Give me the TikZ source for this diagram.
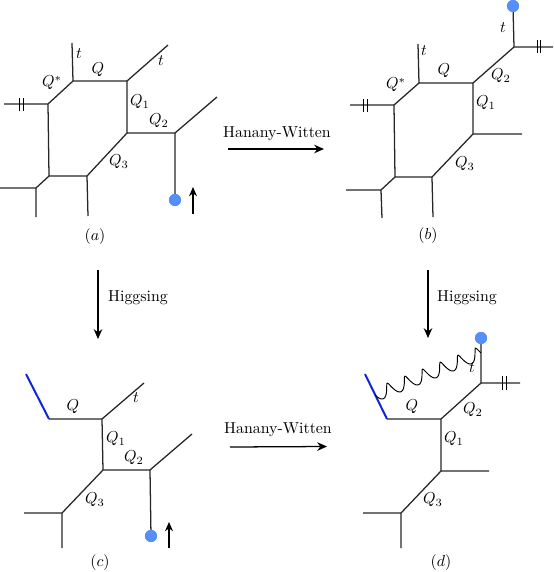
\documentclass[tikz,border=0pt]{standalone}
\usetikzlibrary{arrows.meta}
\definecolor{ballblue}{rgb}{0.34,0.56,0.98}
\definecolor{branecol}{rgb}{0.05,0.15,0.85}
\tikzset{
 x=0.63pt,y=-0.63pt,
 web/.style={line width=0.8pt,black!85},
 tick/.style={line width=0.58pt,black},
 brane/.style={line width=1.25pt,branecol},
 lab/.style={inner sep=0pt},
 ball/.style={circle,inner sep=0pt,minimum size=7.6pt,draw=none,fill=ballblue},
 mv/.style={line width=0.8pt,-{Stealth[length=5.8pt,width=5pt]}},
 big/.style={line width=0.8pt,-{Stealth[length=6.2pt,width=5.4pt]}}
}
\begin{document}
\begin{tikzpicture}
\useasboundingbox (0,0) rectangle (554,572);
% (a)
\coordinate (a1) at (73,81); \coordinate (a1u) at (72,43);
\coordinate (a2) at (127,81); \coordinate (a2u) at (168,45);
\coordinate (a3) at (127,133); \coordinate (a4) at (175,133);
\coordinate (a4u) at (217,97);
\node[ball] (ab) at (175,200) {};
\coordinate (a5) at (48,104); \coordinate (a5l) at (4,104);
\coordinate (a6) at (49,176); \coordinate (a7) at (87,176);
\coordinate (a7d) at (88,216);
\coordinate (a8) at (36,188); \coordinate (a8l) at (0,188); \coordinate (a8d) at (36,217);
\draw[web] (a1u)--(a1)--(a2)--(a2u) (a2)--(a3)--(a4)--(a4u) (a4)--(ab.center);
\draw[web] (a1)--(a5)--(a5l) (a5)--(a6)--(a7)--(a3) (a7)--(a7d) (a6)--(a8)--(a8l) (a8)--(a8d);
\node[ball] at (ab) {};
\draw[tick] (19,98)--(19,111) (23,98)--(23,111);
\coordinate (am1) at (193,214); \coordinate (am2) at (193,187);
\draw[mv] (am1)--(am2);
\node[lab] at (79,54) {$t$};
\node[lab] at (98,70) {$Q$};
\node[lab] at (161,61) {$t$};
\node[lab] at (52,83) {$Q^{*}$};
\node[lab] at (140,102) {$Q_1$};
\node[lab] at (159,121) {$Q_2$};
\node[lab] at (119,162) {$Q_3$};
\node[lab] at (95,237) {$(a)$};
% (b)
\coordinate (b1) at (419,83); \coordinate (b1u) at (418,44);
\coordinate (b2) at (473,83); \coordinate (b4) at (514,47);
\node[ball] (bb) at (513,6) {};
\coordinate (b4r) at (553,47);
\coordinate (b3) at (473,134); \coordinate (b3r) at (522,134);
\coordinate (b5) at (394,105); \coordinate (b5l) at (350,105);
\coordinate (b6) at (395,177); \coordinate (b7) at (432,177); \coordinate (b7d) at (433,217);
\coordinate (b8) at (381,190); \coordinate (b8l) at (346,190); \coordinate (b8d) at (382,218);
\draw[web] (b1u)--(b1)--(b2)--(b4)--(bb.center) (b4)--(b4r) (b2)--(b3)--(b3r);
\draw[web] (b1)--(b5)--(b5l) (b5)--(b6)--(b7)--(b3) (b7)--(b7d) (b6)--(b8)--(b8l) (b8)--(b8d);
\node[ball] at (bb) {};
\draw[tick] (537,40)--(537,53) (540.5,40)--(540.5,53);
\draw[tick] (363,99)--(363,112) (367,99)--(367,112);
\node[lab] at (503,28) {$t$};
\node[lab] at (424,51) {$t$};
\node[lab] at (444,71) {$Q$};
\node[lab] at (396,85) {$Q^{*}$};
\node[lab] at (501,76) {$Q_2$};
\node[lab] at (486,103) {$Q_1$};
\node[lab] at (465,164) {$Q_3$};
\node[lab] at (428,236) {$(b)$};
% (c)
\coordinate (c0u) at (26,374); \coordinate (c0) at (49,419);
\coordinate (c1) at (102,419); \coordinate (c1u) at (144,383);
\coordinate (c2) at (103,470); \coordinate (c3) at (150,470); \coordinate (c3u) at (192,434);
\node[ball] (cb) at (151,536) {};
\coordinate (c4) at (62,513); \coordinate (c4l) at (24,513); \coordinate (c4d) at (62,548);
\draw[web] (c0)--(c1)--(c1u) (c1)--(c2)--(c3)--(c3u) (c3)--(cb.center) (c2)--(c4)--(c4l) (c4)--(c4d);
\draw[brane] (c0u)--(c0);
\node[ball] at (cb) {};
\coordinate (cm1) at (169,548); \coordinate (cm2) at (169,522);
\draw[mv] (cm1)--(cm2);
\node[lab] at (73,407) {$Q$};
\node[lab] at (136,398) {$t$};
\node[lab] at (116,439) {$Q_1$};
\node[lab] at (134,458) {$Q_2$};
\node[lab] at (95,500) {$Q_3$};
\node[lab] at (100,563) {$(c)$};
% (d)
\coordinate (d0u) at (365,374); \coordinate (d0) at (387,419);
\coordinate (d1) at (441,419); \coordinate (d4) at (481,383);
\node[ball] (db) at (481,338) {};
\coordinate (d4r) at (520,383);
\coordinate (d2) at (441,471); \coordinate (d2r) at (489,471);
\coordinate (d3) at (401,513); \coordinate (d3l) at (363,513); \coordinate (d3d) at (401,548);
\coordinate (dw1) at (375,395);
\draw[web] (d0)--(d1)--(d4)--(db.center) (d4)--(d4r) (d1)--(d2)--(d2r) (d2)--(d3)--(d3l) (d3)--(d3d);
\draw[brane] (d0u)--(d0);
\node[ball] at (db) {};
\draw[tick] (502,376)--(502,390) (506,376)--(506,390);
\draw[line width=0.6pt,shift={(dw1)},rotate=21.6] plot[domain=0:6,samples=181,smooth] ({19*\x+1.5*(1-cos(360*\x))},{6.5*sin(360*\x)});
\node[lab] at (412,407) {$Q$};
\node[lab] at (472,368) {$t$};
\node[lab] at (473,410) {$Q_2$};
\node[lab] at (454,439) {$Q_1$};
\node[lab] at (433,500) {$Q_3$};
\node[lab] at (441,563) {$(d)$};
% transitions
\coordinate (h1) at (228,149); \coordinate (h2) at (324,149);
\draw[big] (h1)--(h2);
\node[lab] at (277,134) {Hanany-Witten};
\coordinate (h3) at (230,447); \coordinate (h4) at (327,446.5);
\draw[big] (h3)--(h4);
\node[lab] at (278,430) {Hanany-Witten};
\coordinate (g1) at (98,270); \coordinate (g2) at (98,339);
\draw[big] (g1)--(g2);
\node[lab] at (138,298) {Higgsing};
\coordinate (g3) at (428,270); \coordinate (g4) at (428,338);
\draw[big] (g3)--(g4);
\node[lab] at (467,298) {Higgsing};
\end{tikzpicture}
\end{document}
